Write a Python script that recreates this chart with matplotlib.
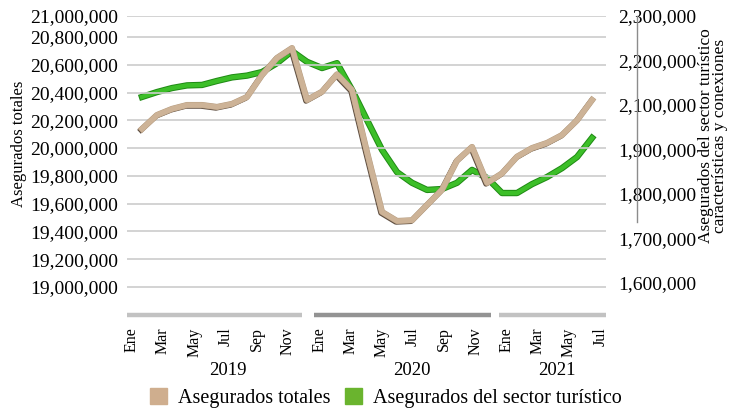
import numpy as np
import matplotlib
matplotlib.use("Agg")
import matplotlib.pyplot as plt
import matplotlib.patheffects as pe
from matplotlib.patches import Patch
from matplotlib.lines import Line2D
from matplotlib.transforms import blended_transform_factory

plt.rcParams['font.family'] = ['Liberation Serif', 'DejaVu Serif']

# === data ===
month_labels = ['Ene', 'Mar', 'May', 'Jul', 'Sep', 'Nov',
                'Ene', 'Mar', 'May', 'Jul', 'Sep', 'Nov',
                'Ene', 'Mar', 'May', 'Jul']
years = ['2019', '2020', '2021']

# asegurados totales (left axis), Ene 2019 .. Jul 2021
totales = [20138000, 20238000, 20282000, 20310000, 20310000, 20296000,
           20318000, 20368000, 20526000, 20649000, 20720000, 20346000,
           20406000, 20531000, 20418000, 19970000, 19540000, 19475000,
           19480000, 19590000, 19700000, 19910000, 20008000, 19749000,
           19818000, 19938000, 20000000, 20037000, 20094000, 20200000,
           20346000]

# asegurados del sector turistico (right axis)
turistico = [2018000, 2029000, 2038000, 2044000, 2045000, 2054000,
             2062000, 2066000, 2074000, 2094000, 2121000, 2097000,
             2083000, 2094000, 2034000, 1966000, 1899000, 1849000,
             1825000, 1809000, 1811000, 1825000, 1854000, 1836000,
             1802000, 1802000, 1822000, 1838000, 1858000, 1883000,
             1926000]

left_ticks = [19.0e6, 19.2e6, 19.4e6, 19.6e6, 19.8e6, 20.0e6,
              20.2e6, 20.4e6, 20.6e6, 20.8e6, 20.951e6]
left_labels = ['19,000,000', '19,200,000', '19,400,000', '19,600,000',
               '19,800,000', '20,000,000', '20,200,000', '20,400,000',
               '20,600,000', '20,800,000', '21,000,000']
right_ticks = [1.6e6, 1.7e6, 1.8e6, 1.9e6, 2.0e6, 2.1e6, 2.2e6]
right_labels = ['1,600,000', '1,700,000', '1,800,000', '1,900,000',
                '2,100,000', '2,200,000', '2,300,000']

# --- layout ---
x = np.arange(len(totales))
tick_pos = -0.687 + 2.082 * np.arange(len(month_labels))
year_spans = [(-1.0, 10.65), (11.47, 23.25), (23.8, 30.93)]
year_colors = ['#c2c2c2', '#939393', '#c2c2c2']
year_text_x = [5.71, 18.0, 27.65]

fig = plt.figure(figsize=(7.4, 4.11), dpi=100)
ax = fig.add_axes([127/740, 1 - 290/411, (606-127)/740, (290-16)/411])
ax2 = ax.twinx()

ax.set_xlim(-1.0, 30.93)
ax.set_ylim(18.978e6, 20.951e6)
ax2.set_ylim(1.584e6, 2.2e6)

# gridlines (left axis)
ax.set_yticks(left_ticks)
ax.set_yticklabels(left_labels, fontsize=14)
ax.grid(axis='y', color='#cccccc', lw=1.2)
ax.set_axisbelow(True)
ax.tick_params(axis='y', length=0, pad=6.5)

ax2.set_yticks(right_ticks)
ax2.set_yticklabels(right_labels, fontsize=14)
ax2.tick_params(axis='y', length=0, pad=8.6)

ax.set_xticks(tick_pos)
ax.set_xticklabels(month_labels, rotation=90, fontsize=11.5)
ax.tick_params(axis='x', length=0, pad=27)

for a in (ax, ax2):
    for s in a.spines.values():
        s.set_visible(False)

# lines: beige over green
ax.set_zorder(ax2.get_zorder() + 1)
ax.patch.set_visible(False)

ax2.plot(x, turistico, color='#3cbf28', lw=3.2, solid_joinstyle='round',
         path_effects=[pe.Stroke(linewidth=4.6, foreground='#1f8a14'), pe.Normal()])
ax.plot(x, totales, color='#cdb397', lw=3.8, solid_joinstyle='round',
        path_effects=[pe.SimpleLineShadow(offset=(-0.8, -0.8), shadow_color='#4d3b2c', alpha=0.9),
                      pe.Stroke(linewidth=4.4, foreground='#b59c80'), pe.Normal()])

# year bars + labels under month ticks
tr = blended_transform_factory(ax.transData, ax.transAxes)
for (x0, x1), c in zip(year_spans, year_colors):
    ax.plot([x0, x1], [-0.091, -0.091], color=c, lw=3.2, solid_capstyle='butt',
            transform=tr, clip_on=False)
for xt, yr in zip(year_text_x, years):
    ax.text(xt, -0.295, yr, transform=tr, ha='center', va='center', fontsize=13.5)

# axis titles
fig.text(19/740, 1 - 144/411, 'Asegurados totales', rotation=90,
         ha='center', va='center', fontsize=12)
fig.text(713/740, 1 - 136/411,
         'Asegurados del sector turístico\ncaracterísticas y conexiones',
         rotation=90, ha='center', va='center', fontsize=12.5,
         linespacing=0.85)

# stray right axis line
fig.add_artist(Line2D([637/740, 637/740], [1 - 16/411, 1 - 222/411],
                      color='#8c8c8c', lw=1.0))

handles = [Patch(color='#cfae8e', label='Asegurados totales'),
           Patch(color='#6ab42e', label='Asegurados del sector turístico')]
fig.legend(handles=handles, loc='center', bbox_to_anchor=(386/740, 1 - 398/411),
           ncol=2, frameon=False, fontsize=14.5, handlelength=0.85,
           handleheight=0.85, handletextpad=0.55, columnspacing=0.7,
           borderpad=0, borderaxespad=0)

fig.savefig('out.png', dpi=100)
